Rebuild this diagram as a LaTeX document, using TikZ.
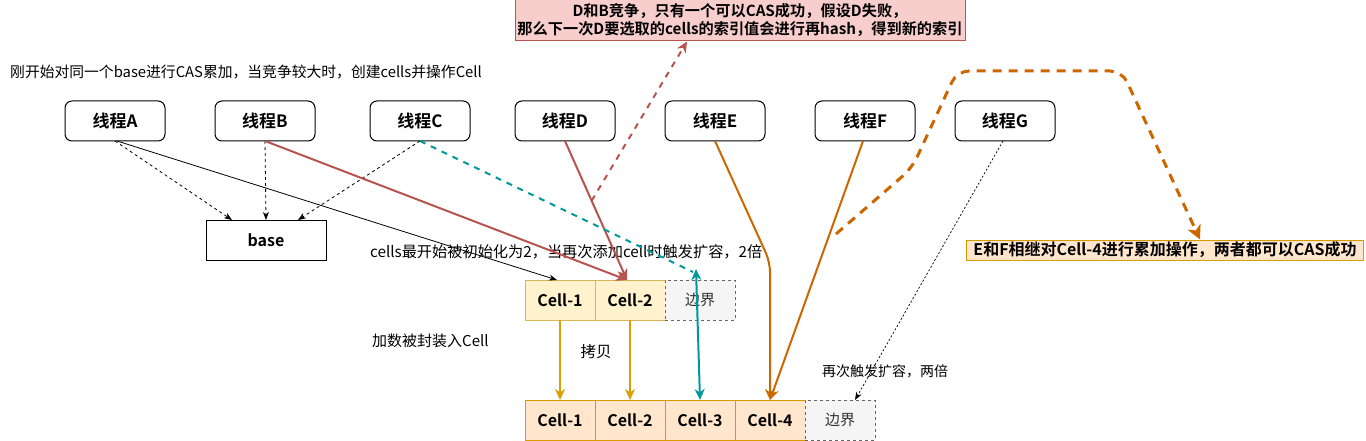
\documentclass[tikz,border=0pt]{standalone}
\usepackage{fontspec}
\setmainfont{Noto Sans CJK SC}[BoldFont={Noto Sans CJK SC Bold}]
\usetikzlibrary{arrows.meta,calc}
\definecolor{redS}{HTML}{B85450}
\definecolor{redF}{HTML}{F8CECC}
\definecolor{yelF}{HTML}{FFF2CC}
\definecolor{yelS}{HTML}{D6B656}
\definecolor{orgF}{HTML}{FFE6CC}
\definecolor{orgS}{HTML}{D79B00}
\definecolor{grayF}{HTML}{F5F5F5}
\definecolor{grayS}{HTML}{666666}
\definecolor{tealS}{HTML}{009999}
\definecolor{darkO}{HTML}{CC6600}
\definecolor{goldS}{HTML}{DBA000}
\begin{document}
\begin{tikzpicture}[x=1pt,y=-1pt,
  thread/.style={draw, rounded corners=7pt, line width=1pt, minimum width=100pt, minimum height=40pt, inner sep=0pt, outer sep=0pt, font=\fontsize{17}{20}\selectfont\bfseries},
  plainbox/.style={draw, line width=1pt, minimum width=120pt, minimum height=40pt, inner sep=0pt, outer sep=0pt, font=\fontsize{16}{19}\selectfont\bfseries},
  cellY/.style={draw=yelS, fill=yelF, line width=1pt, minimum width=70pt, minimum height=40pt, inner sep=0pt, outer sep=0pt, font=\fontsize{16}{19}\selectfont\bfseries},
  cellO/.style={draw=orgS, fill=orgF, line width=1pt, minimum width=70pt, minimum height=40pt, inner sep=0pt, outer sep=0pt, font=\fontsize{16}{19}\selectfont\bfseries},
  bound/.style={draw=grayS, fill=grayF, dashed, line width=0.8pt, minimum width=70pt, minimum height=40pt, inner sep=0pt, outer sep=0pt, font=\fontsize{15}{18}\selectfont, text=black!80},
  lbl/.style={inner sep=0pt, font=\fontsize{14}{17}\selectfont},
  thinarr/.style={-{Stealth[length=8pt,width=6pt,inset=2.5pt]}},
  bigarr/.style={-{Stealth[length=11pt,width=10pt,inset=3.5pt]}},
  blkline/.style={line width=0.8pt, thinarr},
  blkdash/.style={line width=0.8pt, dash pattern=on 3pt off 3pt, thinarr},
  blkdot/.style={line width=0.7pt, dash pattern=on 2pt off 2pt, thinarr},
  redline/.style={draw=redS, line width=2pt, bigarr},
  reddash/.style={draw=redS, line width=2pt, dash pattern=on 6pt off 6pt, bigarr},
  tealdash/.style={draw=tealS, line width=2pt, dash pattern=on 6pt off 6pt},
  tealline/.style={draw=tealS, line width=2pt, {Stealth[length=11pt,width=10pt,inset=3.5pt]}-{Stealth[length=11pt,width=10pt,inset=3.5pt]}},
  orgline/.style={draw=darkO, line width=2pt, bigarr},
  orgdash/.style={draw=darkO, line width=3pt, dash pattern=on 9pt off 7pt, -{Stealth[length=14pt,width=14pt,inset=4pt]}},
  goldline/.style={draw=goldS, line width=2pt, bigarr}
]
\useasboundingbox (0,0) rectangle (1366,441);

% threads
\node[thread] (A) at (115,121) {线程A};
\node[thread] (B) at (265,121) {线程B};
\node[thread] (C) at (420,121) {线程C};
\node[thread] (D) at (565,121) {线程D};
\node[thread] (E) at (715,121) {线程E};
\node[thread] (F) at (865,121) {线程F};
\node[thread] (G) at (1005,121) {线程G};

\node[plainbox] (base) at (266,240) {base};

% cells row 1
\node[cellY] (c11) at (560,300) {Cell-1};
\node[cellY] (c12) at (630,300) {Cell-2};
\node[bound] (b1) at (700,300) {边界};

% cells row 2
\node[cellO] (c21) at (560,420) {Cell-1};
\node[cellO] (c22) at (630,420) {Cell-2};
\node[cellO] (c23) at (700,420) {Cell-3};
\node[cellO] (c24) at (770,420) {Cell-4};
\node[bound] (b2) at (840,420) {边界};

% notes
\node[draw=redS, fill=redF, line width=1pt, minimum width=450pt, minimum height=42pt, inner sep=0pt, align=center, font=\fontsize{15.2}{18.5}\selectfont\bfseries] (note) at (740,20) {D和B竞争，只有一个可以CAS成功，假设D失败，\\那么下一次D要选取的cells的索引值会进行再hash，得到新的索引};
\node[draw=orgS, fill=orgF, line width=1pt, minimum width=397pt, minimum height=20pt, inner sep=0pt, font=\fontsize{16}{18}\selectfont\bfseries] (ef) at (1165,250) {E和F相继对Cell-4进行累加操作，两者都可以CAS成功};

% labels
\node[lbl, anchor=west, font=\fontsize{14.8}{17}\selectfont] (t1) at (10,72) {刚开始对同一个base进行CAS累加，当竞争较大时，创建cells并操作Cell};
\node[lbl, anchor=west, font=\fontsize{15.2}{18}\selectfont] (t2) at (370,252) {cells最开始被初始化为2，当再次添加cell时触发扩容，2倍};
\node[lbl, anchor=west, font=\fontsize{15}{17}\selectfont] (t3) at (372,341) {加数被封装入Cell};
\node[lbl, font=\fontsize{15.5}{18}\selectfont] (t4) at (596,352) {拷贝};
\node[lbl, anchor=west] (t5) at (822,371) {再次触发扩容，两倍};

% connectors to base
\draw[blkdash] (A.south) -- ($(base.north)+(-34,0)$);
\draw[blkdash] (B.south) -- (base.north);
\draw[blkdash] (C.south) -- ($(base.north)+(32,0)$);

% A to cell-1
\draw[blkline] ($(A.south)+(2,0)$) -- ($(c11.north)+(-3,0)$);

% B, D to cell-2
\draw[redline] (B.south) -- ($(c12.north)+(-3,0)$);
\draw[redline] (D.south) -- ($(c12.north)+(-3,0)$);
\coordinate (dmid) at ($(D.south)!0.43!($(c12.north)+(-3,0)$)$);
\draw[reddash] (dmid) -- ($(note.south)+(-53,0)$);

% C teal
\coordinate (ttop) at ($(b1.north)+(-4,-11)$);
\draw[tealdash] (C.south) -- ($(ttop)+(-3,3)$);
\draw[tealline] (c23.north) -- (ttop);

% E, F to cell-4
\coordinate (ebend) at ($(c24.north)+(0,-138)$);
\draw[orgline, rounded corners=10pt] (E.south) -- (ebend) -- (c24.north);
\draw[orgline] ($(F.south)+(-2,0)$) -- (c24.north);

% orange dashed to E&F note
\coordinate (fstart) at (836,234);
\draw[orgdash, rounded corners=12pt] (fstart) -- (912,168) -- (957,71) -- (1122,71) -- ($(ef.north)+(35,0)$);

% G
\draw[blkdot] ($(G.south)+(-2,0)$) -- ($(b2.north)+(15,0)$);

% copy
\draw[goldline] (c11.south) -- (c21.north);
\draw[goldline] (c12.south) -- (c22.north);
\end{tikzpicture}
\end{document}
